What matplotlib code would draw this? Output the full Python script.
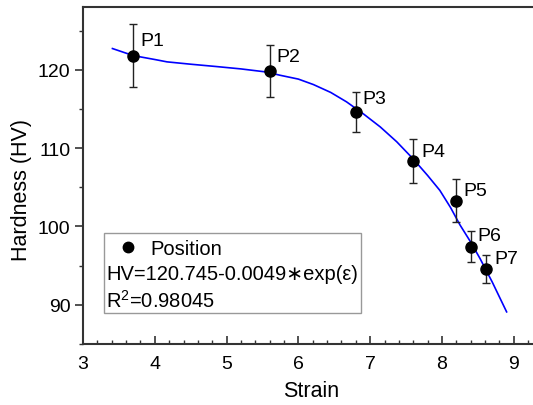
import matplotlib
matplotlib.use("Agg")
import matplotlib.pyplot as plt
from matplotlib.patches import Rectangle
from matplotlib.lines import Line2D
from matplotlib.ticker import MultipleLocator

plt.rcParams['font.family'] = ['Liberation Sans', 'DejaVu Sans']
plt.rcParams['mathtext.default'] = 'regular'

# measured points
labels = ['P1', 'P2', 'P3', 'P4', 'P5', 'P6', 'P7']
strain = [3.70, 5.60, 6.80, 7.60, 8.20, 8.40, 8.61]
hardness = [121.8, 119.8, 114.6, 108.3, 103.3, 97.4, 94.6]
err = [4.0, 3.3, 2.6, 2.8, 2.7, 2.0, 1.8]

# fitted curve
fit_x = [3.41, 3.70, 4.00, 4.17, 4.50, 4.86, 5.20, 5.56, 5.74, 6.00, 6.21, 6.45,
         6.67, 6.90, 7.14, 7.37, 7.60, 7.80, 7.97, 8.12, 8.25, 8.40, 8.53, 8.70, 8.90]
fit_y = [122.7, 121.8, 121.3, 121.0, 120.7, 120.4, 120.1, 119.7, 119.3, 118.8, 118.1, 117.1,
         115.9, 114.4, 112.7, 110.8, 108.6, 106.5, 104.6, 102.4, 100.2, 98.0, 95.9, 92.9, 89.1]

fig = plt.figure(figsize=(5.33, 4.06), dpi=100)
ax = fig.add_axes([83/533, 61/406, 457/533, 337/406])

ax.plot(fit_x, fit_y, color='#0000ff', lw=1.2, zorder=2)
ax.errorbar(strain, hardness, yerr=err, fmt='o', color='black', ms=8,
            ecolor='#222222', elinewidth=1.0, capsize=3, capthick=1.0, zorder=3)

# label offsets from the top of each error bar (points)
lab_dx = [5, 5, 5, 6, 5, 5, 6]
lab_dy = [-12, -8, -5, -9, -8, -3, -3]
for lab, x, y, e, dx, dy in zip(labels, strain, hardness, err, lab_dx, lab_dy):
    ax.annotate(lab, (x, y + e), xytext=(dx, dy), textcoords='offset points',
                fontsize=14, va='center', ha='left')

ax.set_xlim(3, 9.365)
ax.set_ylim(85, 128)
ax.xaxis.set_major_locator(MultipleLocator(1))
ax.xaxis.set_minor_locator(MultipleLocator(0.2))
ax.yaxis.set_major_locator(MultipleLocator(10))
ax.yaxis.set_minor_locator(MultipleLocator(5))
ax.tick_params(axis='x', which='major', direction='in', length=6, width=1.2,
               labelsize=14, pad=8, color='#333333')
ax.tick_params(axis='x', which='minor', direction='in', length=3, width=1.0, color='#333333')
ax.tick_params(axis='y', which='major', direction='out', length=6, width=1.2,
               labelsize=14, pad=3, color='#333333')
ax.tick_params(axis='y', which='minor', direction='out', length=3, width=1.0, color='#333333')
for s in ax.spines.values():
    s.set_linewidth(1.5)
    s.set_color('#333333')

ax.set_xlabel('Strain', fontsize=15.5, labelpad=6)
ax.set_ylabel('Hardness (HV)', fontsize=15.5)
ax.yaxis.set_label_coords(-0.112, 0.46)

# legend box
tr = fig.transFigure
box = Rectangle((104/533, (406-314)/406), (361-104)/533, 80/406, transform=tr,
                fill=False, edgecolor='#999999', lw=1.0, zorder=5)
fig.patches.append(box)
h = Line2D([], [], marker='o', color='black', ls='none', ms=7.5)
ax.legend([h], ['Position'], loc='upper left', bbox_to_anchor=(112/533, (406-234)/406),
          bbox_transform=tr, frameon=False, fontsize=14.5, handlelength=1.0,
          handletextpad=0.6, borderaxespad=0, borderpad=0.3)
fig.text(106/533, (406-275)/406, 'HV=120.745-0.0049\u2217exp(\u03b5)', fontsize=14.5,
         va='center', ha='left')
fig.text(106/533, (406-301)/406, 'R$^2$=0.98045', fontsize=14.5, va='center', ha='left')

fig.savefig('out.png', dpi=100)
